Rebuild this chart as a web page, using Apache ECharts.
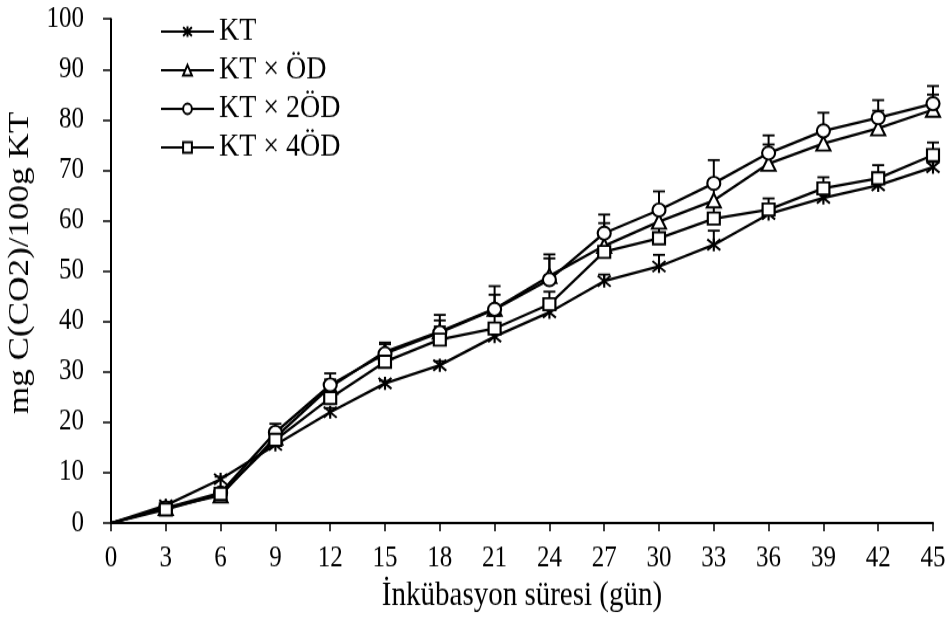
<!DOCTYPE html>
<html>
<head>
<meta charset="utf-8">
<script src="https://cdn.jsdelivr.net/npm/echarts@6/dist/echarts.min.js"></script>
<style>
html,body{margin:0;padding:0;background:#fff;overflow:hidden;}
#wrap{width:949px;height:619px;overflow:hidden;background:#fff;}
#chart{width:949px;height:529px;transform:scaleY(1.1701);transform-origin:0 0;}
</style>
</head>
<body>
<div id="wrap"><div id="chart"></div></div>
<script>
// Data
var days = [0, 3, 6, 9, 12, 15, 18, 21, 24, 27, 30, 33, 36, 39, 42, 45];
var seriesNames = ['KT', 'KT × ÖD', 'KT × 2ÖD', 'KT × 4ÖD'];
var kt     = [0, 3.5, 8.7, 15.5, 22.0, 27.7, 31.3, 37.0, 41.8, 48.0, 50.9, 55.2, 61.3, 64.5, 67.0, 70.6];
var ktOD   = [0, 3.0, 5.5, 17.0, 27.0, 34.0, 38.0, 42.5, 49.0, 55.0, 59.8, 64.0, 71.3, 75.3, 78.3, 82.0];
var kt2OD  = [0, 3.0, 6.0, 18.0, 27.4, 33.6, 37.8, 42.4, 48.3, 57.5, 62.1, 67.4, 73.4, 77.8, 80.4, 83.2];
var kt4OD  = [0, 2.7, 5.8, 16.5, 24.8, 32.0, 36.4, 38.6, 43.4, 53.8, 56.5, 60.4, 62.2, 66.4, 68.4, 73.0];
var errKt    = [0, 0.3, 0.5, 0.5, 0.8, 0.5, 0.8, 0.8, 0.8, 1.3, 2.3, 2.8, 1.5, 1.0, 1.0, 1.0];
var errKtOD  = [0, 0.5, 0.5, 1.0, 1.5, 1.5, 2.2, 2.8, 3.5, 4.5, 3.0, 4.0, 3.8, 3.0, 3.5, 3.0];
var errKt2OD = [0, 0.5, 0.8, 1.7, 2.3, 2.2, 3.5, 4.6, 5.0, 3.7, 3.7, 4.6, 3.5, 3.6, 3.5, 3.5];
var errKt4OD = [0, 0.5, 0.5, 1.0, 1.5, 2.0, 2.6, 2.5, 2.5, 3.0, 2.5, 2.5, 2.2, 2.2, 2.6, 2.5];
var xTicks = [0, 45, 3];
var yTicks = [0, 100, 10];

var SY = 1.1701; // vertical stretch of the page
var asterisk = 'path://M0,0L10,10M0,10L10,0M5,-1L5,11';
var symbols = [asterisk, 'triangle', 'circle', 'rect'];
var symW = [13, 14, 13, 12];
var values = [kt, ktOD, kt2OD, kt4OD];
var errs = [errKt, errKtOD, errKt2OD, errKt4OD];

var series = [];
values.forEach(function (v, k) {
  var e = errs[k];
  series.push({
    type: 'custom',
    name: seriesNames[k] + ' err',
    data: days.map(function (d, i) { return [d, v[i], v[i] + e[i]]; }),
    z: 1,
    silent: true,
    renderItem: function (params, api) {
      var p0 = api.coord([api.value(0), api.value(1)]);
      var p1 = api.coord([api.value(0), api.value(2)]);
      if (p0[1] - p1[1] < 0.5) return null;
      var hw = 6;
      return {
        type: 'group',
        children: [
          { type: 'line', shape: { x1: p0[0], y1: p0[1], x2: p1[0], y2: p1[1] }, style: { stroke: '#000', lineWidth: 2 } },
          { type: 'line', shape: { x1: p1[0] - hw, y1: p1[1], x2: p1[0] + hw, y2: p1[1] }, style: { stroke: '#000', lineWidth: 1.8 } }
        ]
      };
    }
  });
});
values.forEach(function (v, k) {
  series.push({
    type: 'line',
    name: seriesNames[k],
    data: days.map(function (d, i) {
      return i === 0 ? { value: [d, v[i]], symbol: 'none' } : [d, v[i]];
    }),
    z: 3,
    symbol: symbols[k],
    symbolSize: [symW[k], symW[k] / SY],
    showAllSymbol: true,
    lineStyle: { color: '#000', width: 2.3 },
    itemStyle: { color: k === 0 ? 'none' : '#fff', borderColor: '#000', borderWidth: 2 },
    emphasis: { disabled: true },
    animation: false
  });
});

var chart = echarts.init(document.getElementById('chart'), null, { renderer: 'canvas' });
chart.setOption({
  backgroundColor: '#fff',
  animation: false,
  textStyle: { fontFamily: 'Liberation Serif', color: '#000' },
  grid: { left: 111, right: 16, top: 16.2, bottom: 82, containLabel: false, outerBoundsMode: 'none' },
  legend: {
    data: seriesNames,
    orient: 'vertical',
    left: 155,
    top: 8,
    itemWidth: 53,
    itemHeight: 11,
    itemGap: 5,
    textStyle: { fontFamily: 'Liberation Serif', fontSize: 28, color: '#000', lineHeight: 28 },
    selectedMode: false
  },
  xAxis: {
    type: 'value',
    min: xTicks[0], max: xTicks[1], interval: xTicks[2],
    name: 'İnkübasyon süresi (gün)',
    nameLocation: 'middle',
    nameGap: 47,
    nameTextStyle: { fontFamily: 'Liberation Serif', fontSize: 29, color: '#000' },
    axisLine: { lineStyle: { color: '#000', width: 2 } },
    axisTick: { show: true, length: 7, inside: false, lineStyle: { color: '#000', width: 1.5 } },
    axisLabel: { fontFamily: 'Liberation Serif', fontSize: 25, color: '#000', margin: 18 },
    splitLine: { show: false }
  },
  yAxis: {
    type: 'value',
    min: yTicks[0], max: yTicks[1], interval: yTicks[2],
    name: 'mg C(CO2)/100g KT',
    nameLocation: 'middle',
    nameGap: 70,
    nameRotate: 90,
    nameTextStyle: { fontFamily: 'Liberation Serif', fontSize: 30, color: '#000', padding: [0, 0, 0, 14] },
    axisLine: { show: true, lineStyle: { color: '#000', width: 2 } },
    axisTick: { show: true, length: 8, inside: false, lineStyle: { color: '#000', width: 1.5 } },
    axisLabel: { fontFamily: 'Liberation Serif', fontSize: 25, color: '#000', margin: 27 },
    splitLine: { show: false }
  },
  series: series
});
</script>
</body>
</html>
